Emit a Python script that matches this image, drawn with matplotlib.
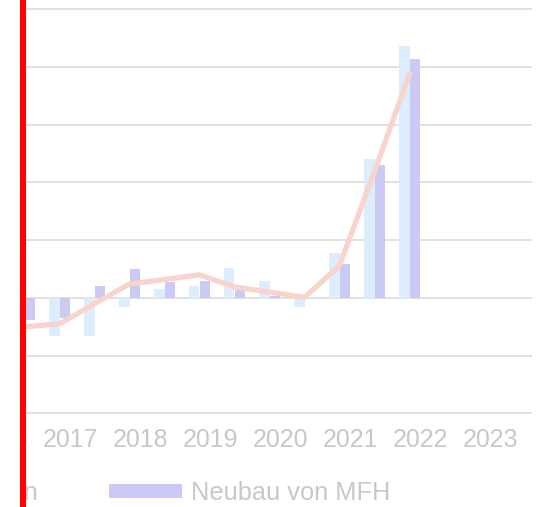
import numpy as np
import matplotlib
matplotlib.use("Agg")
import matplotlib.pyplot as plt
from matplotlib.patches import Rectangle

# half-year periods, first one is only partly visible at the left edge
periods = ["2016 H2", "2017 H1", "2017 H2", "2018 H1", "2018 H2", "2019 H1",
           "2019 H2", "2020 H1", "2020 H2", "2021 H1", "2021 H2", "2022 H1"]
wohngebaeude = [-5.0, -6.6, -6.6, -1.5, 1.6, 2.0, 5.1, 3.0, -1.5, 7.7, 24.0, 43.7]
mfh          = [-3.9, -3.5, 2.1, 5.0, 2.8, 3.0, 1.4, 0.4, 0.0, 5.9, 23.0, 41.4]
gesamt       = [-5.0, -4.5, -1.0, 2.4, 3.2, 4.0, 1.9, 1.0, 0.1, 5.6, 21.9, 38.8]

years = ["2016", "2017", "2018", "2019", "2020", "2021", "2022", "2023"]
year_offset = -0.69   # year labels sit between the two half-year bars

C_A    = "#dcedfd"
C_B    = "#cacaf5"
C_LINE = "#f8d4cc"
C_TEXT = "#c8c8c8"
C_GRID = "#dcdcdc"

plt.rcParams["font.family"] = ["Liberation Sans", "DejaVu Sans"]

W, H = 542, 507
fig = plt.figure(figsize=(W / 100, H / 100), dpi=100)

# axes extends past the left edge: the reference is a crop of a wider chart
px_left, px_right = -40, 532
px_top, px_bot = 8.15, 414.5
ax = fig.add_axes([px_left / W, 1 - px_bot / H,
                   (px_right - px_left) / W, (px_bot - px_top) / H])

x = np.arange(len(periods))
bw = 0.3
ax.bar(x - bw / 2, wohngebaeude, width=bw, color=C_A, zorder=2,
       label="Neubau von Wohngebäuden")
ax.bar(x + bw / 2, mfh, width=bw, color=C_B, zorder=2, label="Neubau von MFH")
ax.plot(x, gesamt, color=C_LINE, linewidth=3.8, solid_capstyle="round", zorder=3)

ax.set_xlim((px_left - 24.5) / 35, (px_right - 24.5) / 35)
ax.set_ylim(-20.2, 50.2)
ax.set_yticks(np.arange(-20, 51, 10))
ax.set_yticklabels([])
ax.grid(axis="y", color=C_GRID, linewidth=1.2, zorder=0)
ax.set_xticks(np.arange(len(years)) * 2 + year_offset)
ax.set_xticklabels(years)
ax.tick_params(axis="x", length=0, pad=10, labelsize=17.9, labelcolor=C_TEXT)
ax.tick_params(axis="y", length=0)
for s in ax.spines.values():
    s.set_visible(False)

handles, labels = ax.get_legend_handles_labels()
fig.legend(handles, labels, loc="center right", bbox_to_anchor=(390 / W, 1 - 493 / H),
           ncol=2, frameon=False, fontsize=18.3, labelcolor=C_TEXT,
           borderpad=0, borderaxespad=0, handlelength=2.9, handleheight=0.52,
           handletextpad=0.32, columnspacing=2.78)

# cropped-off strip and red marker on the left
fig.add_artist(Rectangle((0, 0), 20 / W, 1, transform=fig.transFigure,
                         facecolor="white", edgecolor="none", zorder=10))
fig.add_artist(Rectangle((20 / W, 0), 6 / W, 1, transform=fig.transFigure,
                         facecolor="#ff0000", edgecolor="none", zorder=11))

fig.savefig("out.png", dpi=100)
